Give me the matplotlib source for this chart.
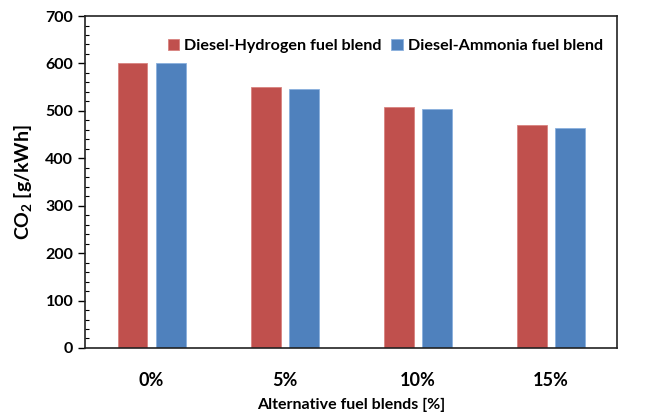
import matplotlib.pyplot as plt
import numpy as np
from matplotlib.ticker import MultipleLocator

plt.rcParams['font.family'] = ['Lato', 'DejaVu Sans']
plt.rcParams['font.weight'] = 'bold'
plt.rcParams['axes.labelweight'] = 'bold'
plt.rcParams['mathtext.fontset'] = 'custom'
plt.rcParams['mathtext.bf'] = 'Lato:bold'
plt.rcParams['mathtext.rm'] = 'Lato:bold'
plt.rcParams['mathtext.default'] = 'bf'

# data
blends = ['0%', '5%', '10%', '15%']
hydrogen = [600, 550, 508, 471]
ammonia = [600, 547, 503, 464]

fig = plt.figure(figsize=(6.51, 4.16), dpi=100)
ax = fig.add_axes([0.1306, 0.1635, 0.8174, 0.798])

x = np.arange(len(blends))
w = 0.225
off = 0.143
ax.bar(x - off, hydrogen, w, color='#C0504D', edgecolor='#D9837F', linewidth=0.6,
       label='Diesel-Hydrogen fuel blend')
ax.bar(x + off, ammonia, w, color='#4F81BD', edgecolor='#8AB0DE', linewidth=0.6,
       label='Diesel-Ammonia fuel blend')

ax.set_xlim(-0.5, 3.5)
ax.set_ylim(0, 700)
ax.set_xticks(x)
ax.set_xticklabels(blends, fontsize=13, fontweight='bold')
ax.tick_params(axis='x', length=0, pad=17)
ax.yaxis.set_major_locator(MultipleLocator(100))
ax.yaxis.set_minor_locator(MultipleLocator(20))
ax.tick_params(axis='y', which='major', direction='out', length=5, labelsize=11.5, width=1)
ax.tick_params(axis='y', which='minor', direction='in', length=3, width=0.8)
for t in ax.get_yticklabels():
    t.set_fontweight('bold')

for s in ax.spines.values():
    s.set_linewidth(1.2)
    s.set_color('#222222')

ax.set_xlabel('Alternative fuel blends [%]', fontsize=11.5, fontweight='bold', labelpad=7)
ax.set_ylabel(r'CO$_2$ [g/kWh]', fontsize=14, fontweight='bold', labelpad=8)

leg = ax.legend(loc='upper right', bbox_to_anchor=(1.0, 0.975), ncol=2, frameon=False,
                prop={'size': 11.6, 'weight': 'bold'}, handlelength=0.7, handleheight=0.7,
                handletextpad=0.3, columnspacing=0.6)

fig.savefig('out.png', dpi=100)
